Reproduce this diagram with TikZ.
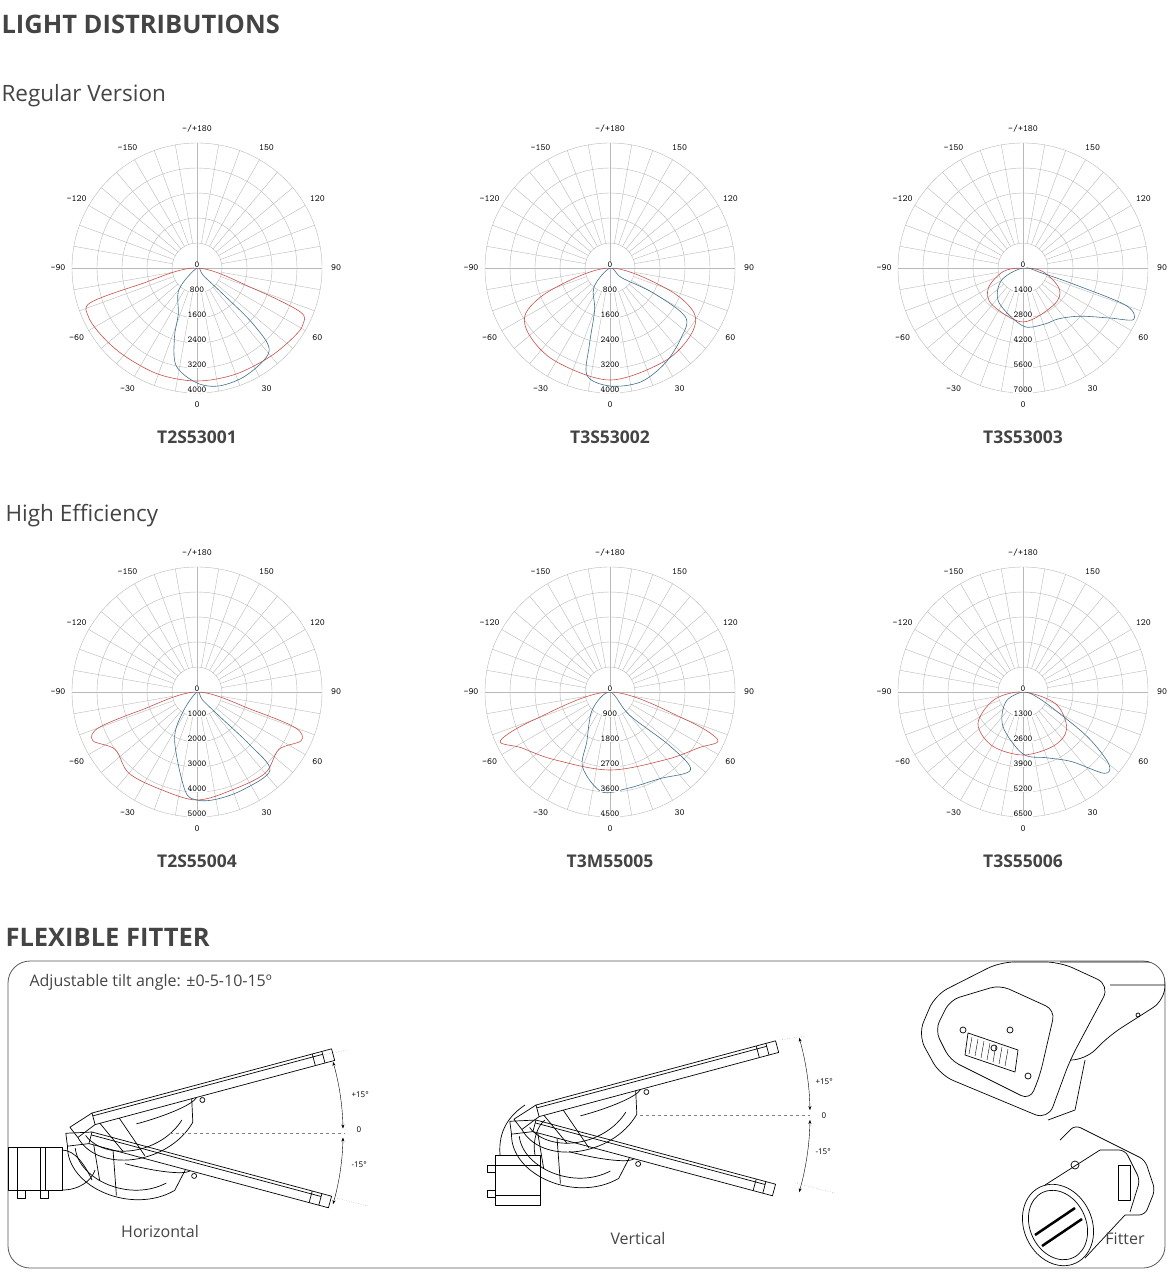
\documentclass[tikz,border=0pt]{standalone}
\usepackage{fontspec}
\setmainfont{Open Sans}
\usetikzlibrary{arrows.meta}
\definecolor{txt}{HTML}{444444}
\definecolor{curvered}{HTML}{C8504A}
\definecolor{curveblue}{HTML}{3F6E8C}
\tikzset{
  grid/.style={gray!55, line width=0.4pt},
  ring/.style={font=\ttfamily\fontsize{9}{10}\selectfont, fill=white, inner sep=0.6pt},
  ang/.style={font=\ttfamily\fontsize{9.5}{10}\selectfont},
  caption/.style={font=\bfseries\fontsize{17.5}{20}\selectfont, text=txt},
  head/.style={font=\bfseries\fontsize{25.5}{28}\selectfont, text=txt, anchor=west},
  sub/.style={font=\fontsize{22.5}{25}\selectfont, text=txt, anchor=west},
  part/.style={line width=0.7pt, line join=round},
  dim/.style={font=\fontsize{8}{9}\selectfont, anchor=west}
}
% one polar diagram: centre x, centre y, ring values, caption, red curve, blue curve
\newcommand\polarchart[6]{%
\begin{scope}[shift={(#1,#2)}]
  \foreach \r in {25,50,...,125} \draw[grid] (0,0) circle[radius=\r];
  \foreach \t in {0,10,...,350} \draw[grid] (\t:25) -- (\t:125);
  \draw[grid] (-125,0) -- (125,0) (0,-125) -- (0,125);
  \draw[curvered, line width=0.6pt] plot[smooth cycle, tension=0.55] coordinates {#5};
  \draw[curveblue, line width=0.6pt] plot[smooth cycle, tension=0.55] coordinates {#6};
  \node[ring] at (0,-3) {0};
  \foreach \v [count=\i] in {#3} \node[ring] at (0,{25*\i-3}) {\v};
  \foreach \a/\l in {-30/-30,-60/-60,-90/-90,-120/-120,-150/-150,30/30,60/60,90/90,120/120,150/150,180/{-/+180}}
    \node[ang] at ({90-\a}:139) {\l};
  \node[ang] at (0,137) {0};
  \node[caption] at (0,169) {#4};
\end{scope}}
% one luminaire head: pivot, tilt
\newcommand\lamphead[2]{%
\begin{scope}[shift={#1}, rotate=#2]
  \draw[part] (0,0) rectangle (248,12);
  \draw[part] (0,3) -- (238,3) (228,0) -- (228,12) (238,0) -- (238,12);
  \draw[part] (-25,8) -- (0,0) (-25,8) -- (-20,20) -- (0,12);
  \draw[part] (110,16) circle[radius=2.5];
  \draw[part] (-20,20) .. controls (-10,60) and (60,70) .. (95,35) -- (100,12);
  \draw[part] (-12,20) .. controls (0,50) and (55,58) .. (85,30);
  \draw[part] (5,12) -- (20,45) (25,12) -- (40,55);
  \draw[part] (40,22) .. controls (70,22) and (100,18) .. (105,12);
\end{scope}}
\begin{document}
\begin{tikzpicture}[x=1pt, y=-1pt, >={Stealth[length=4pt]}]
\useasboundingbox (0,0) rectangle (1170,1285);

% headings
\node[head] at (-2,24) {LIGHT DISTRIBUTIONS};
\node[sub] at (-2,96) {Regular Version};
\node[sub] at (2,516) {High Efficiency};
\node[head] at (2,937) {FLEXIBLE FITTER};

% polar diagrams
\polarchart{197}{268}{800,1600,2400,3200,4000}{T2S53001}
  {(0:0) (164:60) (162:112) (156:119) (145:117) (130:114) (110:113) (90:113) (70:113) (50:115) (35:119) (28:120) (23:112) (20:60)}
  {(0:0) (130:28) (112:50) (108:73) (102:100) (90:115) (79:120) (65:118) (49:110) (45:80) (45:40) (50:10)}
\polarchart{610}{268}{800,1600,2400,3200,4000}{T3S53002}
  {(0:0) (160:60) (152:95) (140:105) (120:108) (90:112) (60:108) (40:105) (28:95) (20:60)}
  {(0:0) (130:25) (110:45) (105:80) (102:110) (90:118) (75:118) (60:110) (45:100) (33:90) (30:50) (40:15)}
\polarchart{1023}{268}{1400,2800,4200,5600,7000}{T3S53003}
  {(0:0) (170:20) (150:40) (130:48) (90:54) (50:48) (30:42) (10:20)}
  {(0:0) (150:25) (125:42) (90:58) (70:60) (55:62) (40:75) (30:100) (25:122) (20:110) (18:60) (15:20)}
\polarchart{197}{692}{1000,2000,3000,4000,5000}{T2S55004}
  {(0:0) (162:60) (160:105) (155:115) (145:100) (130:106) (110:104) (90:108) (70:104) (50:106) (35:100) (25:115) (20:105) (18:60)}
  {(0:0) (125:25) (115:53) (97:99) (90:108) (80:109) (65:108) (47:107) (45:75) (47:35) (55:10)}
\polarchart{610}{692}{900,1800,2700,3600,4500}{T3M55005}
  {(0:0) (160:80) (156:120) (148:105) (130:88) (90:78) (50:88) (32:105) (24:118) (20:80)}
  {(0:0) (135:25) (115:55) (110:80) (95:100) (80:98) (60:100) (44:112) (42:80) (50:30)}
\polarchart{1023}{692}{1300,2600,3900,5200,6500}{T3S55006}
  {(0:0) (165:30) (145:55) (120:62) (90:63) (60:62) (40:57) (20:35)}
  {(0:0) (150:20) (120:40) (90:62) (70:70) (55:85) (45:115) (40:112) (35:80) (30:40) (20:15)}

% fitter frame
\draw[gray!70!black, line width=0.8pt, rounded corners=22] (8,961) rectangle (1165,1268);
\node[anchor=west, font=\fontsize{16}{18}\selectfont, text=txt] at (26,982) {Adjustable tilt angle: ±0-5-10-15º};

% horizontal mounting
\lamphead{(92,1113)}{15}
\lamphead{(92,1132)}{-15}
\draw[part] (8,1147) rectangle (62,1190);
\draw[part] (17,1147) -- (17,1190) (40,1147) -- (40,1190) (45,1147) -- (45,1190);
\draw[part] (17,1190) rectangle (25,1198) (40,1190) rectangle (48,1198);
\draw[part] (62,1150) .. controls (75,1150) and (85,1165) .. (92,1180) (62,1190) .. controls (80,1190) and (92,1180) .. (95,1170);
\draw[gray, dashed, line width=0.4pt] (170,1133) -- (345,1133);
\draw[gray, dotted] (322,1055) -- (348,1050) (328,1196) -- (368,1206);
\coordinate (hpiv) at (85,1133);
\draw[<->, line width=0.4pt] (hpiv) ++(-16:258) arc[start angle=-16, end angle=-1, radius=258];
\draw[<->, line width=0.4pt] (hpiv) ++(1:258) arc[start angle=1, end angle=16, radius=258];
\node[dim] at (348,1095) {+15°};
\node[dim] at (353,1130) {0};
\node[dim] at (348,1165) {-15°};
\node[font=\fontsize{16}{18}\selectfont, text=txt] at (160,1231) {Horizontal};

% vertical mounting
\lamphead{(536,1105)}{15}
\lamphead{(536,1120)}{-15}
\draw[part] (495,1155) rectangle (540,1205);
\draw[part] (495,1165) -- (540,1165) (495,1195) -- (540,1195);
\draw[part] (487,1165) rectangle (495,1172) (487,1190) rectangle (495,1197);
\draw[part] (500,1155) .. controls (498,1130) and (510,1115) .. (525,1105) (535,1155) .. controls (532,1140) and (538,1125) .. (545,1120);
\draw[gray, dashed, line width=0.4pt] (640,1115) -- (810,1115);
\draw[gray, dotted] (780,1040) -- (806,1036) (795,1183) -- (835,1193);
\coordinate (vpiv) at (530,1115);
\draw[<->, line width=0.4pt] (vpiv) ++(-16:280) arc[start angle=-16, end angle=-1, radius=280];
\draw[<->, line width=0.4pt] (vpiv) ++(1:280) arc[start angle=1, end angle=16, radius=280];
\node[dim] at (812,1082) {+15°};
\node[dim] at (818,1116) {0};
\node[dim] at (812,1152) {-15°};
\node[font=\fontsize{16}{18}\selectfont, text=txt] at (638,1238) {Vertical};

% fitter close-up
\begin{scope}
  \clip[rounded corners=22] (8,961) rectangle (1165,1268);
  \draw[part, rounded corners=14] (918,1035) -- (935,995) -- (1000,962) -- (1060,962) -- (1110,985) -- (1070,1060) -- (1048,1120) -- (940,1075) -- cycle;
  \draw[part, rounded corners=10] (935,1030) -- (950,1000) -- (1000,985) -- (1055,1010) -- (1040,1075) -- (1030,1100) -- (950,1060) -- cycle;
  \draw[part, rounded corners=14] (1060,962) -- (1165,962) -- (1165,1000) -- (1110,1035) -- (1085,1060) -- (1070,1060);
  \draw[part] (1110,985) -- (1165,985) (1085,1060) -- (1075,1110) -- (1048,1120);
  \draw[part] (968,1033) -- (1018,1050) -- (1015,1072) -- (965,1055) -- cycle;
  \foreach \k in {0,...,6} \draw[line width=0.4pt] ({972+6*\k},{1037+2*\k}) -- ({969+6*\k},{1054+2*\k});
  \foreach \p in {(963,1030),(1010,1030),(1028,1076),(994,1048)} \draw[part] \p circle[radius=3];
  \draw[part] (1138,1015) circle[radius=2];
  % pole clamp
  \draw[part, rotate around={25:(1058,1225)}] (1058,1225) ellipse[x radius=34, y radius=42];
  \draw[part, rotate around={25:(1058,1225)}] (1058,1225) ellipse[x radius=28, y radius=36];
  \draw[line width=2.5pt] (1035,1235) -- (1075,1208) (1042,1246) -- (1082,1219);
  \draw[part] (1045,1185) -- (1100,1150) (1085,1258) -- (1125,1215);
  \draw[part, rounded corners=6] (1060,1140) -- (1075,1125) -- (1145,1160) -- (1155,1190) -- (1145,1215) -- (1125,1215);
  \draw[part, rounded corners=6] (1100,1150) -- (1125,1150) -- (1140,1180) -- (1130,1212);
  \draw[part] (1118,1165) rectangle (1130,1200);
  \draw[part] (1075,1165) circle[radius=4];
\end{scope}
\node[font=\fontsize{16}{18}\selectfont, text=txt] at (1125,1239) {Fitter};
\end{tikzpicture}
\end{document}
